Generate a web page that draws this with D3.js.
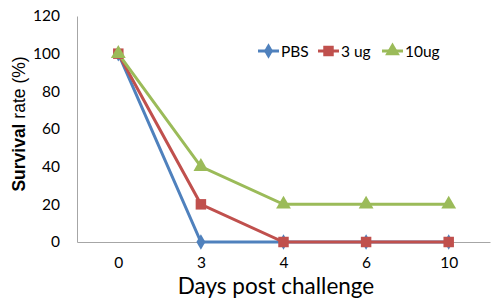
<!DOCTYPE html>
<meta charset="utf-8">
<script src="https://d3js.org/d3.v7.min.js"></script>
<style>
  body { margin: 0; background: #fff; }
  text { font-family: Lato, "Open Sans", sans-serif; fill: #000; }
</style>
<body>
<svg width="500" height="307"></svg>
<script>
  // chart values
  var days = ["0", "3", "4", "6", "10"];
  var pbs = [100, 0, 0, 0, 0];
  var ug3 = [100, 20, 0, 0, 0];
  var ug10 = [100, 40, 20, 20, 20];
  var yTicks = [0, 20, 40, 60, 80, 100, 120];

  var series = [
    { name: "PBS", values: pbs, color: "#4F81BD", shape: "diamond" },
    { name: "3 ug", values: ug3, color: "#C0504D", shape: "square" },
    { name: "10ug", values: ug10, color: "#9BBB59", shape: "triangle" }
  ];

  var svg = d3.select("svg");
  var plotLeft = 77, plotRight = 490, plotTop = 16, plotBottom = 242;

  var x = d3.scalePoint().domain(days).range([plotLeft, plotRight]).padding(0.5);
  var y = d3.scaleLinear().domain([0, 120]).range([plotBottom, plotTop]);

  // y axis
  var yAxis = svg.append("g")
    .attr("transform", "translate(" + plotLeft + ",0)")
    .call(d3.axisLeft(y).tickValues(yTicks).tickSize(0).tickPadding(17));
  yAxis.select(".domain").attr("stroke", "#a6a6a6").attr("stroke-width", 1);
  yAxis.selectAll("text").style("font-size", "15.5px").style("font-family", "Lato, sans-serif");

  // x axis
  var xAxis = svg.append("g")
    .attr("transform", "translate(0," + plotBottom + ")")
    .call(d3.axisBottom(x).tickSize(0).tickPadding(15));
  xAxis.select(".domain").attr("stroke", "#a6a6a6").attr("stroke-width", 1);
  xAxis.selectAll("text").style("font-size", "15.5px").style("font-family", "Lato, sans-serif");

  // axis titles
  svg.append("text")
    .attr("x", 276)
    .attr("y", 294)
    .attr("text-anchor", "middle")
    .style("font-size", "22.5px")
    .text("Days post challenge");

  var yt = svg.append("text")
    .attr("transform", "translate(25,124) rotate(-90)")
    .attr("text-anchor", "middle")
    .style("font-family", "'Liberation Sans', Arial, sans-serif")
    .style("font-size", "17.5px");
  yt.append("tspan").style("font-weight", "bold").text("Survival");
  yt.append("tspan").text(" rate (%)");

  var line = d3.line()
    .x(function (d, i) { return x(days[i]); })
    .y(function (d) { return y(d); });

  function marker(g, shape, color) {
    var sym = shape === "diamond" ? d3.symbolDiamond : shape === "square" ? d3.symbolSquare : d3.symbolTriangle;
    var size = shape === "diamond" ? 70 : shape === "square" ? 110 : 95;
    return g.append("path")
      .attr("d", d3.symbol().type(sym).size(size)())
      .attr("fill", color);
  }

  series.forEach(function (s) {
    svg.append("path")
      .datum(s.values)
      .attr("fill", "none")
      .attr("stroke", s.color)
      .attr("stroke-width", 3)
      .attr("d", line);
  });
  series.forEach(function (s) {
    s.values.forEach(function (v, i) {
      var g = svg.append("g").attr("transform", "translate(" + x(days[i]) + "," + y(v) + ")");
      marker(g, s.shape, s.color);
    });
  });

  // legend
  var legendX = [258, 318, 382];
  series.forEach(function (s, i) {
    var g = svg.append("g").attr("transform", "translate(" + legendX[i] + ",51)");
    g.append("line").attr("x1", 0).attr("x2", 21).attr("stroke", s.color).attr("stroke-width", 3);
    var m = g.append("g").attr("transform", "translate(10.5,0)");
    marker(m, s.shape, s.color);
    g.append("text").attr("x", 23).attr("y", 5.5).style("font-size", "15.5px").text(s.name);
  });
</script>
</body>
